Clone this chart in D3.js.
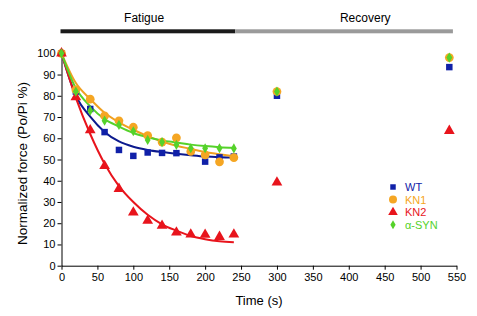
<!DOCTYPE html>
<html>
<head>
<meta charset="utf-8">
<script src="https://cdn.jsdelivr.net/npm/d3@7"></script>
<style>
  body { margin: 0; background: #fff; }
  svg { font-family: "Liberation Sans", Arial, sans-serif; }
  .axis path, .axis line { stroke: #000; }
  .axis text { font-size: 11px; fill: #000; }
</style>
</head>
<body>
<div class="chart"></div>
<script>
// time points (s)
const times = [0, 20, 40, 60, 80, 100, 120, 140, 160, 180, 200, 220, 240, 300, 540];

const wt   = [100, 82, 73.8, 62.9, 54.5, 51.7, 53.3, 53.1, 53, 53.6, 49, 51, 51.4, 80, 93.5];
const kn1  = [100, 82.8, 78.4, 70.5, 68.2, 65.2, 61.3, 58.2, 60.2, 53.8, 52.2, 48.9, 50.9, 82, 98];
const kn2  = [100, 79.3, 63.8, 47, 36.2, 25.1, 21.2, 18.8, 15.7, 14.7, 14.6, 13.6, 14.7, 39.2, 63.5];
const asyn = [100, 82, 73, 68.3, 66.3, 63.3, 59.2, 58.2, 56.9, 55.3, 55.3, 55.3, 55.2, 82, 98];

// fitted curves
const fitTimes = [0, 20, 40, 60, 80, 100, 120, 140, 160, 180, 200, 220, 240];
const wtFit   = [100, 80, 70.2, 63, 58.5, 56, 54.5, 53.5, 52.7, 52, 51.4, 51.1, 51];
const kn1Fit  = [100, 86, 78.5, 72, 67.5, 64, 61, 58.5, 56.5, 55, 53.5, 52.5, 51.5];
const kn2Fit  = [100, 79, 62, 48, 37.5, 30, 24, 19.5, 16.5, 14, 12.5, 11.5, 11];
const asynFit = [100, 83.5, 75, 69, 65.5, 62.5, 60.5, 59, 58, 57, 56.3, 55.8, 55.5];

const names   = ['WT', 'KN1', 'KN2', '\u03b1-SYN'];
const colors  = ['#1020a8', '#f5a623', '#e8141c', '#55d22a'];
const lineColors = ['#0c1a8e', '#f0a020', '#e8141c', '#55d22a'];

const xTicks = [0, 50, 100, 150, 200, 250, 300, 350, 400, 450, 500, 550];
const yTicks = [0, 10, 20, 30, 40, 50, 60, 70, 80, 90, 100];

const margin = { top: 53.3, right: 20.5, bottom: 50, left: 61.5 };
const width = 477 - margin.left - margin.right;
const height = 316 - margin.top - margin.bottom - 0.3;

const svg = d3.select('.chart')
  .append('svg')
  .attr('width', 477)
  .attr('height', 316)
  .append('g')
  .attr('transform', `translate(${margin.left}, ${margin.top})`);

const xScale = d3.scaleLinear().domain([0, 550]).range([0, width]);
const yScale = d3.scaleLinear().domain([0, 100]).range([height, 0]);

// phase bars
svg.append('rect')
  .attr('x', xScale(0) - 1).attr('y', -24)
  .attr('width', xScale(242) - xScale(0) + 1).attr('height', 4)
  .attr('fill', '#1a1a1a');
svg.append('rect')
  .attr('x', xScale(242)).attr('y', -24)
  .attr('width', xScale(545) - xScale(242)).attr('height', 4)
  .attr('fill', '#9a9a9a');
svg.append('text')
  .attr('x', xScale(115)).attr('y', -31)
  .attr('text-anchor', 'middle').style('font-size', '12px')
  .text('Fatigue');
svg.append('text')
  .attr('x', xScale(423)).attr('y', -31)
  .attr('text-anchor', 'middle').style('font-size', '12px')
  .text('Recovery');

// axes
svg.append('g')
  .attr('class', 'axis')
  .call(d3.axisLeft(yScale).tickValues(yTicks).tickSize(4).tickSizeOuter(0).tickPadding(2));

svg.append('g')
  .attr('class', 'axis')
  .attr('transform', `translate(0, ${height})`)
  .call(d3.axisBottom(xScale).tickValues(xTicks).tickSize(4).tickSizeOuter(0).tickPadding(4));

svg.append('text')
  .attr('transform', `translate(${-35}, ${height / 2 + 4}) rotate(-90)`)
  .attr('text-anchor', 'middle').style('font-size', '13.5px')
  .text('Normalized force (Po/Pi %)');

svg.append('text')
  .attr('x', xScale(275)).attr('y', height + 39)
  .attr('text-anchor', 'middle').style('font-size', '13px')
  .text('Time (s)');

// fit lines
const fits = [wtFit, kn1Fit, kn2Fit, asynFit];
const line = d3.line()
  .x((d, i) => xScale(fitTimes[i]))
  .y(d => yScale(d))
  .curve(d3.curveMonotoneX);

fits.forEach((f, k) => {
  svg.append('path')
    .datum(f)
    .attr('d', line)
    .attr('fill', 'none')
    .attr('stroke', lineColors[k])
    .attr('stroke-width', 2);
});

// markers
const symbols = [
  d3.symbol().type(d3.symbolSquare).size(42),
  d3.symbol().type(d3.symbolCircle).size(60),
  d3.symbol().type(d3.symbolTriangle).size(50),
  d3.symbol().type(d3.symbolDiamond).size(30)
];
const series = [wt, kn1, kn2, asyn];

series.forEach((s, k) => {
  svg.append('g')
    .selectAll('path')
    .data(s)
    .enter()
    .append('path')
    .attr('transform', (d, i) => `translate(${xScale(times[i])}, ${yScale(d)})`)
    .attr('d', symbols[k])
    .attr('fill', colors[k]);
});

// legend
const legend = svg.append('g')
  .attr('transform', `translate(${393 - margin.left}, ${187 - margin.top})`);

const legendSymbols = [
  d3.symbol().type(d3.symbolSquare).size(30),
  d3.symbol().type(d3.symbolCircle).size(50),
  d3.symbol().type(d3.symbolTriangle).size(40),
  d3.symbol().type(d3.symbolDiamond).size(24)
];

names.forEach((n, k) => {
  const row = legend.append('g').attr('transform', `translate(0, ${k * 12.6})`);
  row.append('path').attr('d', legendSymbols[k]).attr('fill', colors[k]);
  row.append('text')
    .attr('x', 12).attr('y', 4)
    .style('font-size', '11px')
    .attr('fill', colors[k])
    .text(n);
});
</script>
</body>
</html>
